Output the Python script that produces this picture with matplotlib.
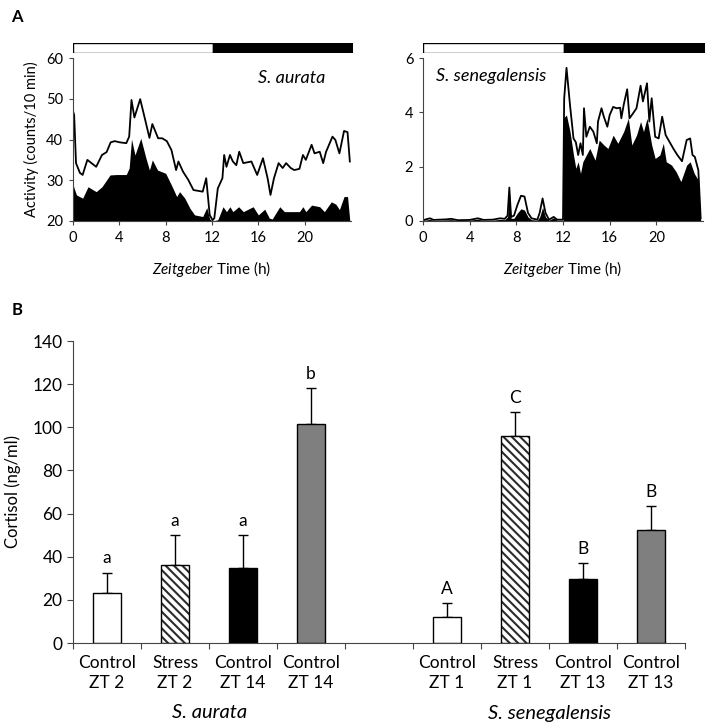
import matplotlib
matplotlib.use("Agg")
import matplotlib.pyplot as plt

plt.rcParams['font.family'] = ['Lato', 'DejaVu Sans']
plt.rcParams['mathtext.fontset'] = 'custom'
plt.rcParams['mathtext.rm'] = 'Lato'
plt.rcParams['mathtext.it'] = 'Lato:italic'
plt.rcParams['hatch.linewidth'] = 1.5

# ---- Panel A: activity, S. aurata (counts/10 min) ----
aurata_t_sem = [0.0, 0.1, 0.26, 0.6, 0.83, 1.24, 2.0, 2.5, 2.9, 3.25, 3.6, 4.05, 4.6, 4.85, 5.05,
                5.3, 5.8, 6.2, 6.6, 6.85, 7.35, 7.7, 8.1, 8.5, 8.9, 9.1, 9.5, 9.95, 10.4, 11.2,
                11.5, 11.8, 12.05, 12.2, 12.5, 12.9, 13.05, 13.25, 13.55, 13.8, 14.1, 14.35, 14.7, 15.4, 15.9,
                16.4, 16.8, 17.05, 17.35, 17.75, 18.1, 18.4, 18.8, 19.1, 19.55, 19.85, 20.1, 20.6, 20.85, 21.3,
                21.6, 21.85, 22.4, 22.65, 23.0, 23.4, 23.7, 23.9]
aurata_sem = [47, 46, 34.2, 31.8, 31.3, 35, 33.3, 36.2, 36.9, 39.3, 39.6, 39.3, 39.1, 40.7, 49.7,
              45.4, 49.9, 45.2, 40.4, 43.8, 40.3, 40.3, 39.6, 37.4, 32.5, 34.6, 32.1, 30.1, 27.6, 27.2,
              30.5, 21.5, 20.2, 20.7, 28, 30.5, 36.2, 33.3, 36.2, 34.6, 33.7, 37, 34.2, 34.6, 31.3,
              35.4, 30.5, 26.4, 30.5, 34.2, 33, 34.2, 33, 32.5, 32.8, 36.2, 35, 38.7, 36.6, 37,
              34.2, 37, 40.7, 39.9, 36.6, 42.1, 41.8, 34.6]
aurata_t_mean = [0.0, 0.1, 0.3, 0.83, 1.3, 2.0, 2.5, 3.2, 3.75, 4.6, 4.85, 5.05, 5.35, 5.85, 6.3,
                 6.6, 6.85, 7.3, 8.0, 8.5, 8.95, 9.2, 9.65, 10.1, 10.5, 11.2, 11.55, 11.8, 12.0, 12.5,
                 12.95, 13.25, 13.55, 13.8, 14.3, 14.7, 15.55, 16.0, 16.55, 16.95, 17.2, 17.85, 18.25, 18.85, 19.55,
                 19.85, 20.1, 20.6, 21.3, 21.7, 22.3, 22.7, 23.0, 23.4, 23.7, 23.9]
aurata_mean = [29, 28, 26.4, 25.6, 28.4, 27.2, 28.4, 31.3, 31.4, 31.4, 33, 40.1, 36.2, 40.3, 35.4,
               32.5, 35, 32.5, 31.7, 28.8, 26, 27.2, 25.6, 23.1, 21.5, 21.1, 23.3, 20.5, 20, 20.3,
               23.5, 22.3, 23.5, 22.3, 23.5, 22.3, 23.5, 21.5, 22.9, 20.7, 20.5, 23.5, 22.3, 22.3, 22.3,
               23.5, 22.3, 23.9, 23.5, 22.3, 24.7, 24.1, 22.8, 26, 26, 20]

# ---- Panel A: activity, S. senegalensis ----
sene_t_sem = [0.0, 0.6, 0.9, 2.0, 2.4, 3.0, 4.0, 4.7, 5.2, 6.0, 6.6, 7.0, 7.25, 7.4, 7.55,
              7.8, 8.1, 8.4, 8.7, 9.0, 9.3, 9.8, 10.0, 10.25, 10.5, 10.8, 11.2, 11.5, 12.0, 12.1,
              12.3, 12.6, 12.9, 13.1, 13.3, 13.5, 13.7, 13.8, 14.0, 14.3, 14.6, 14.9, 15.0, 15.3, 15.5,
              15.8, 16.0, 16.3, 16.6, 16.9, 17.0, 17.2, 17.5, 17.7, 18.0, 18.3, 18.65, 18.85, 19.2, 19.4,
              19.6, 19.9, 20.2, 20.5, 20.8, 21.2, 21.45, 21.8, 22.2, 22.6, 22.9, 23.1, 23.3, 23.6, 23.8]
sene_sem = [0.03, 0.1, 0.04, 0.06, 0.08, 0.03, 0.04, 0.1, 0.04, 0.05, 0.1, 0.08, 0.2, 1.23, 0.15,
            0.2, 0.6, 0.93, 0.9, 0.3, 0.1, 0.05, 0.3, 0.83, 0.3, 0.05, 0.15, 0.05, 0.05, 4.5,
            5.64, 4.27, 3.04, 2.9, 2.43, 2.86, 2.43, 4.15, 3.1, 3.47, 3.29, 2.86, 3.66, 4.15, 3.84,
            3.47, 3.9, 4.2, 4.15, 4.17, 3.78, 4.27, 4.85, 3.78, 3.96, 4.15, 4.98, 4.4, 5.07, 3.66,
            4.52, 3.1, 3.04, 3.84, 3.16, 2.86, 2.67, 2.43, 2.2, 2.98, 3.04, 2.43, 2.36, 1.87, 0.1]
sene_t_mean = [0.0, 0.6, 0.9, 2.0, 2.4, 3.0, 4.0, 4.7, 5.2, 6.0, 6.6, 7.0, 7.25, 7.4, 7.55,
               7.8, 8.1, 8.4, 8.7, 9.0, 9.3, 9.8, 10.0, 10.25, 10.5, 10.8, 11.2, 11.5, 11.95, 12.0,
               12.05, 12.3, 12.6, 12.9, 13.1, 13.3, 13.5, 13.7, 14.0, 14.3, 14.75, 15.1, 15.5, 15.85, 16.3,
               16.7, 17.2, 17.6, 17.9, 18.3, 18.65, 18.9, 19.2, 19.6, 19.9, 20.3, 20.6, 20.85, 21.3, 21.7,
               22.1, 22.6, 22.9, 23.25, 23.6, 23.8]
sene_mean = [0.02, 0.06, 0.02, 0.04, 0.05, 0.02, 0.03, 0.07, 0.02, 0.03, 0.06, 0.05, 0.15, 1.15, 0.1,
             0.1, 0.3, 0.45, 0.4, 0.15, 0.05, 0.03, 0.15, 0.5, 0.15, 0.03, 0.12, 0.03, 0.03, 0.0,
             3.8, 3.9, 3.29, 2.43, 1.94, 2.18, 1.75, 2.18, 2.43, 2.67, 2.24, 2.98, 2.8, 2.67, 3.16,
             2.86, 3.29, 3.78, 2.8, 3.16, 3.66, 3.29, 3.78, 2.8, 2.3, 2.43, 2.86, 2.18, 2.06, 1.81,
             1.45, 2.06, 2.18, 1.75, 1.5, 0.0]

# ---- Panel B: cortisol ----
groups = ["Control\nZT 2", "Stress\nZT 2", "Control\nZT 14", "Control\nZT 14",
          "Control\nZT 1", "Stress\nZT 1", "Control\nZT 13", "Control\nZT 13"]
cortisol = [23, 36, 35, 101.5, 12, 96, 29.5, 52.5]
cortisol_err = [9.5, 14, 15, 16.5, 6.5, 11, 7.5, 11]
letters = ["a", "a", "a", "b", "A", "C", "B", "B"]
slots = [0, 1, 2, 3, 5, 6, 7, 8]
bar_fill = ["white", "white", "black", "#7f7f7f", "white", "white", "black", "#7f7f7f"]
bar_hatch = [None, "\\\\\\\\", None, None, None, "\\\\\\\\", None, None]

W, H = 709, 726
fig = plt.figure(figsize=(W / 100, H / 100), dpi=100)


def box(l, t, r, b):
    return [l / W, 1 - b / H, (r - l) / W, (b - t) / H]


def light_dark(l, r):
    ax = fig.add_axes(box(l, 43, r, 53))
    ax.barh(0, 12, left=0, height=1, color="white", edgecolor="black", lw=1)
    ax.barh(0, 12, left=12, height=1, color="black", edgecolor="black", lw=1)
    ax.set_xlim(0, 24)
    ax.set_ylim(-0.5, 0.5)
    ax.axis("off")


def activity_axes(ax, ymin, ymax, step):
    for s in ["top", "right"]:
        ax.spines[s].set_visible(False)
    for s in ["left", "bottom"]:
        ax.spines[s].set_color("#444444")
    ax.set_xlim(0, 24)
    ax.set_ylim(ymin, ymax)
    ax.set_xticks(range(0, 24, 4))
    ax.set_yticks(range(ymin, ymax + 1, step))
    ax.tick_params(labelsize=10.5, length=3, color="#444444", pad=4)
    ax.set_xlabel(r"$\it{Zeitgeber}$ Time (h)", fontsize=11, labelpad=10)


light_dark(73, 353)
ax1 = fig.add_axes(box(73, 58, 351, 221))
ax1.fill_between(aurata_t_mean, 20, aurata_mean, color="black", lw=0)
ax1.plot(aurata_t_sem, aurata_sem, color="black", lw=1.3)
activity_axes(ax1, 20, 60, 10)
ax1.set_ylabel("Activity (counts/10 min)", fontsize=10.5, labelpad=5)
ax1.text(0.785, 0.88, "S. aurata", transform=ax1.transAxes, ha="center", va="center",
         style="italic", fontsize=13)

light_dark(423, 705)
ax2 = fig.add_axes(box(423, 58, 703, 221))
ax2.fill_between(sene_t_mean, 0, sene_mean, color="black", lw=0)
ax2.plot(sene_t_sem, sene_sem, color="black", lw=1.3)
activity_axes(ax2, 0, 6, 2)
ax2.text(0.245, 0.89, "S. senegalensis", transform=ax2.transAxes, ha="center", va="center",
         style="italic", fontsize=13)

# ---- Panel B ----
ax3 = fig.add_axes(box(73, 341, 685, 643))
for x, v, e, c, h, lab in zip(slots, cortisol, cortisol_err, bar_fill, bar_hatch, letters):
    if h:
        ax3.bar(x, v, width=0.41, color="white", edgecolor="#2b2b2b", hatch=h, lw=0, zorder=2)
        ax3.bar(x, v, width=0.41, fill=False, edgecolor="black", lw=1, zorder=3)
    else:
        ax3.bar(x, v, width=0.41, color=c, edgecolor="black", lw=1, zorder=2)
    ax3.errorbar(x, v, yerr=[[0], [e]], color="black", lw=1, capsize=3.5, capthick=1, zorder=1)
    ax3.text(x, v + e + 3, lab, ha="center", va="bottom", fontsize=12.5)

ax3.set_xlim(-0.5, 8.5)
ax3.set_ylim(0, 140)
ax3.set_yticks(range(0, 141, 20))
ax3.set_xticks([i - 0.5 for i in range(10)])
ax3.set_xticklabels([])
ax3.set_xticks(slots, groups, minor=True)
ax3.tick_params(axis="x", which="minor", length=0, labelsize=12.5, pad=9)
ax3.tick_params(axis="x", which="major", length=4, direction="out", color="#444444")
ax3.tick_params(axis="y", labelsize=12.5, length=4, color="#444444")
for s in ["top", "right"]:
    ax3.spines[s].set_visible(False)
for s in ["left", "bottom"]:
    ax3.spines[s].set_color("#444444")
for lbl in ax3.get_xticklabels(minor=True):
    lbl.set_linespacing(1.3)
ax3.set_ylabel("Cortisol (ng/ml)", fontsize=12, labelpad=8)

fig.text(210 / W, 1 - 713 / H, "S. aurata", ha="center", va="center", style="italic", fontsize=14.5)
fig.text(549 / W, 1 - 713 / H, "S. senegalensis", ha="center", va="center", style="italic", fontsize=14.5)

fig.text(17 / W, 1 - 17 / H, "A", ha="center", va="center", fontweight="bold", fontsize=12)
fig.text(17 / W, 1 - 310 / H, "B", ha="center", va="center", fontweight="bold", fontsize=12)

fig.savefig("out.png", dpi=100)
